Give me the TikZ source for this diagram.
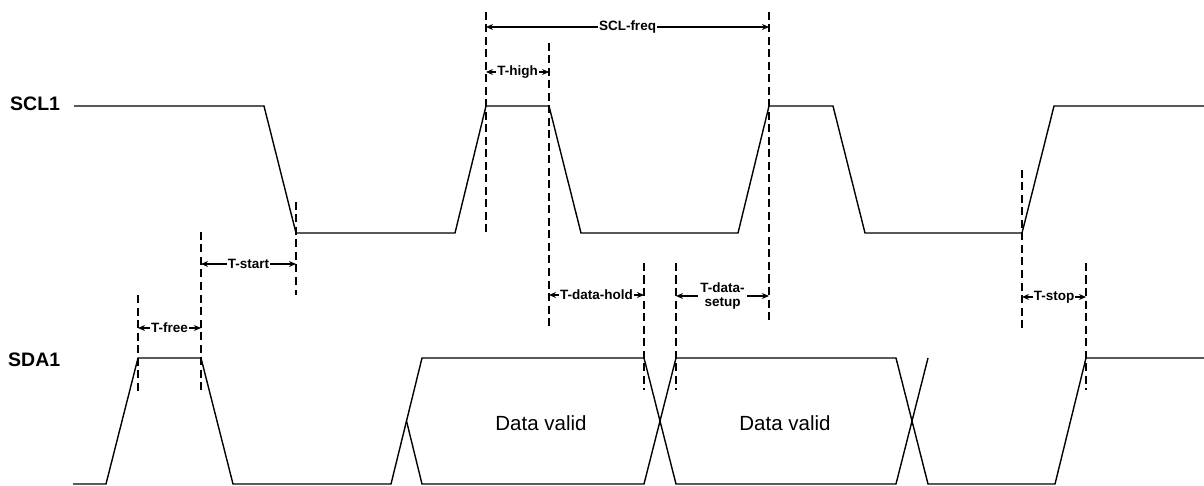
\documentclass[tikz,border=0pt]{standalone}
\usepackage{fontspec}
\setmainfont{Liberation Sans}
\usetikzlibrary{arrows.meta}
\begin{document}
\begin{tikzpicture}[x=1pt,y=-1pt,
  wave/.style={line width=1.4pt, line join=miter},
  guide/.style={line width=1.5pt, dash pattern=on 8pt off 4.5pt},
  dim/.style={line width=1.2pt, {Stealth[length=7pt,width=6pt]}-{Stealth[length=7pt,width=6pt]}},
  dimlabel/.style={font=\fontsize{13.5}{14}\selectfont\bfseries, fill=white, inner sep=0.8pt, align=center},
  sig/.style={font=\fontsize{19.5}{20}\selectfont\bfseries, anchor=west, inner sep=0pt},
  valid/.style={font=\fontsize{20.5}{21}\selectfont, inner sep=0pt}]
\useasboundingbox (0,0) rectangle (1204,486);

% signal names
\node[sig] (scl) at (10,104) {SCL1};
\node[sig] (sda) at (8,360) {SDA1};

% SCL waveform
\draw[wave] (74,106) -- (264,106) -- (296,233) -- (455,233) -- (486,106) -- (549,106)
  -- (581,233) -- (738,233) -- (769,106) -- (833,106) -- (865,233) -- (1022,233)
  -- (1054,106) -- (1204,106);

% SDA waveform
\draw[wave] (73,484) -- (106,484) -- (138,358) -- (201,358) -- (233,484) -- (391,484)
  -- (422,358) -- (644,358) -- (676,484) -- (896,484) -- (928,358);
\draw[wave] (406.5,421) -- (422,484) -- (644,484) -- (676,358) -- (896,358) -- (928,484)
  -- (1055,484) -- (1086,358) -- (1204,358);

\node[valid] (dv1) at (541,423) {Data valid};
\node[valid] (dv2) at (785,423) {Data valid};

% guide lines
\draw[guide] (138,295) -- (138,392);
\draw[guide] (201,232) -- (201,392);
\draw[guide] (296,202) -- (296,295);
\draw[guide] (486,12) -- (486,233);
\draw[guide] (549,43) -- (549,327);
\draw[guide] (769,12) -- (769,320);
\draw[guide] (644,263) -- (644,390);
\draw[guide] (676,263) -- (676,390);
\draw[guide] (1022,170) -- (1022,328);
\draw[guide] (1086,263) -- (1086,390);

% dimension end points
\coordinate (free-a) at (138,328);  \coordinate (free-b) at (201,328);
\coordinate (start-a) at (201,264); \coordinate (start-b) at (296,264);
\coordinate (freq-a) at (486,27);   \coordinate (freq-b) at (769,27);
\coordinate (high-a) at (486,72);   \coordinate (high-b) at (549,72);
\coordinate (hold-a) at (549,295);  \coordinate (hold-b) at (644,295);
\coordinate (setup-a) at (676,296); \coordinate (setup-b) at (769,296);
\coordinate (stop-a) at (1022,297); \coordinate (stop-b) at (1086,297);

% dimensions
\draw[dim] (free-a) -- (free-b) node[midway, dimlabel] (lfree) {T-free};
\draw[dim] (start-a) -- (start-b) node[midway, dimlabel] (lstart) {T-start};
\draw[dim] (freq-a) -- (freq-b) node[midway, dimlabel] (lfreq) {SCL-freq};
\draw[dim] (high-a) -- (high-b) node[midway, dimlabel] (lhigh) {T-high};
\draw[dim] (hold-a) -- (hold-b) node[midway, dimlabel] (lhold) {T-data-hold};
\draw[dim] (setup-a) -- (setup-b) node[midway, dimlabel, inner sep=2pt] (lsetup) {T-data-\\setup};
\draw[dim] (stop-a) -- (stop-b) node[midway, dimlabel] (lstop) {T-stop};
\end{tikzpicture}
\end{document}
